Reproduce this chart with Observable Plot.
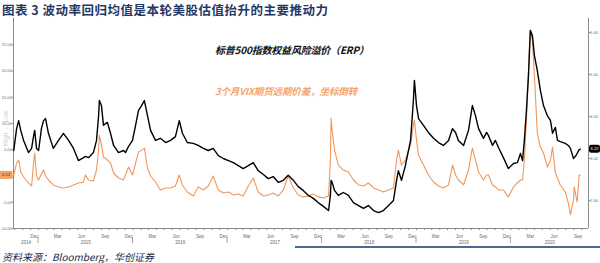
<!DOCTYPE html>
<html><head><meta charset="utf-8">
<script src="https://cdn.jsdelivr.net/npm/d3@7"></script>
<script src="https://cdn.jsdelivr.net/npm/@observablehq/plot@0.6"></script>
<style>
body{margin:0;background:#fff;}
#wrap{position:relative;width:600px;height:263px;overflow:hidden;background:#fff;}
#chart{position:absolute;left:0;top:0;}
.t{position:absolute;white-space:nowrap;font-family:"Noto Sans CJK SC",sans-serif;}
#title{left:2px;top:0px;font-size:12.5px;line-height:normal;letter-spacing:0.5px;font-weight:700;color:#1f3864;}
#caption{left:2px;top:249px;font-size:10px;line-height:normal;font-style:italic;color:#1a2a4a;}
#rule{position:absolute;left:295px;top:246px;width:305px;height:2px;background:#4a6a95;}
#lab1{left:215px;top:43px;font-size:10px;line-height:13px;font-weight:700;font-style:italic;color:#111;letter-spacing:-0.2px;}
#lab2{left:215px;top:85px;font-size:9.6px;line-height:13px;font-weight:700;font-style:italic;color:#f4a56c;letter-spacing:-0.2px;}
</style></head>
<body>
<div id="wrap">
  <div id="chart"></div>
  <div id="rule"></div>
  <div class="t" id="title">图表 3 波动率回归均值是本轮美股估值抬升的主要推动力</div>
  <div class="t" id="lab1">标普500指数权益风险溢价（ERP）</div>
  <div class="t" id="lab2">3个月VIX期货远期价差，坐标倒转</div>
  <div class="t" id="caption">资料来源：Bloomberg，华创证券</div>
</div>
<script>
// ---- data ----
const dates = ["2014-09-27","2014-10-08","2014-10-16","2014-10-24","2014-11-04","2014-11-23","2014-12-05","2014-12-13","2014-12-17","2014-12-24",
"2015-01-01","2015-01-12","2015-01-20","2015-01-28","2015-02-08","2015-02-27","2015-03-19","2015-04-07","2015-04-27","2015-05-16",
"2015-06-04","2015-06-24","2015-07-01","2015-07-13","2015-08-01","2015-08-13","2015-08-21","2015-08-24","2015-09-01","2015-09-09",
"2015-09-24","2015-10-06","2015-10-18","2015-11-06","2015-11-25","2015-12-03","2015-12-15","2015-12-30","2016-01-11","2016-01-22",
"2016-02-03","2016-02-14","2016-02-26","2016-03-09","2016-03-28","2016-04-16","2016-05-06","2016-05-25","2016-06-13","2016-06-28",
"2016-07-10","2016-07-29","2016-08-21","2016-09-09","2016-09-29","2016-10-18","2016-11-06","2016-11-26","2016-12-15","2017-01-04",
"2017-01-23","2017-02-11","2017-03-02","2017-03-22","2017-04-10","2017-04-29","2017-05-19","2017-06-07","2017-06-26","2017-07-16",
"2017-08-04","2017-08-23","2017-09-12","2017-10-01","2017-10-20","2017-11-09","2017-11-28","2017-12-17","2018-01-06","2018-01-26",
"2018-02-02","2018-02-05","2018-02-09","2018-02-18","2018-03-05","2018-03-24","2018-04-13","2018-05-02","2018-05-22","2018-06-10",
"2018-06-29","2018-07-19","2018-08-07","2018-08-26","2018-09-15","2018-10-04","2018-10-16","2018-10-23","2018-11-04","2018-11-19",
"2018-12-09","2018-12-20","2018-12-24","2019-01-01","2019-01-09","2019-01-28","2019-02-16","2019-03-08","2019-03-27","2019-04-15",
"2019-05-05","2019-05-20","2019-06-01","2019-06-12","2019-07-02","2019-07-21","2019-08-05","2019-08-17","2019-08-29","2019-09-17",
"2019-09-29","2019-10-06","2019-10-22","2019-11-02","2019-11-14","2019-12-03","2019-12-22","2020-01-11","2020-01-26","2020-02-07",
"2020-02-15","2020-02-22","2020-03-01","2020-03-09","2020-03-16","2020-03-24","2020-04-01","2020-04-12","2020-04-24","2020-05-06",
"2020-05-21","2020-06-02","2020-06-10","2020-06-21","2020-06-29","2020-07-10","2020-07-29","2020-08-10","2020-08-18","2020-08-30",
"2020-09-02","2020-09-09","2020-09-13","2020-09-21","2020-09-25"];

// S&P 500 equity risk premium (right axis, %)
const erp = [3.19,3.71,3.90,3.67,3.43,3.14,3.24,3.55,3.67,3.24,
3.19,3.71,3.90,3.95,3.60,3.24,3.43,3.60,3.43,3.24,
2.95,3.02,3.05,3.02,3.14,3.43,4.02,4.38,4.26,3.79,
3.86,3.60,3.31,3.14,3.19,3.14,3.29,3.43,3.79,4.14,
4.26,4.38,4.02,3.67,3.43,3.48,3.38,3.43,3.52,3.90,
3.60,3.38,3.36,3.31,3.24,3.19,3.24,3.07,3.00,2.95,
2.90,2.83,2.76,2.83,2.90,2.71,2.62,2.52,2.57,2.43,
2.48,2.60,2.48,2.33,2.24,2.12,2.05,1.95,1.86,1.76,
2.12,2.48,2.43,2.24,2.12,2.19,2.12,1.95,1.88,1.81,
1.88,1.76,1.71,1.76,1.88,2.00,2.48,2.71,2.48,2.83,
3.43,4.38,4.86,4.26,3.95,3.79,3.62,3.48,3.38,3.31,
3.43,3.71,3.62,3.43,3.31,3.67,4.26,4.02,3.71,3.48,
3.62,3.55,3.31,3.43,3.26,3.02,2.76,2.88,2.90,3.12,
2.95,3.43,4.14,4.98,6.05,5.93,5.45,5.10,4.62,4.26,
4.02,3.90,3.60,3.74,3.43,3.40,3.36,3.31,3.24,3.00,
3.02,3.07,3.12,3.21,3.22];

// 3-month VIX futures term spread, inverted (left axis)
const vixInv = [0.19,2.47,3.04,0.76,-0.19,-1.33,-1.90,2.66,4.36,0,
-0.76,0.38,1.14,0,-0.76,-1.71,-2.09,-2.28,-2.09,-1.71,
-1.33,-1.14,0.19,-0.76,-0.95,1.14,4.93,7.78,5.88,3.61,
3.04,2.47,0.57,-0.38,-0.76,0.19,1.71,0.19,2.47,4.55,
4.93,5.31,1.52,0,-1.14,-2.66,-2.28,-2.28,-1.90,0.19,
-1.71,-3.04,-3.80,-2.09,-2.66,-1.90,0,-2.66,-3.23,-3.04,
-3.61,-3.42,-3.80,-1.90,-0.38,-3.04,-3.80,-3.61,-3.23,-3.80,
-2.66,0,-2.28,-3.61,-3.98,-3.80,-3.42,-3.98,-4.17,-3.80,
3.04,11.0,8.73,4.93,2.09,1.14,0.76,-0.76,-1.71,-1.90,
-1.33,-2.28,-2.66,-3.04,-2.66,-2.28,3.04,4.93,2.09,3.04,
5.88,9.68,10.6,6.83,3.98,2.09,0.19,-1.14,-1.90,-2.28,
-1.71,2.09,0.19,-0.76,-1.71,1.14,5.31,3.04,0.76,-0.76,
0.19,0.19,-1.71,-2.09,-2.66,-2.66,-3.98,-2.09,-1.33,-0.76,
-0.76,3.04,10.6,20.1,27.7,25.8,19.2,8.16,5.50,4.36,
1.71,3.04,5.50,0.57,-0.38,-1.71,-3.04,-5.12,-7.40,-4.55,
-2.09,-3.98,-4.93,0.19,0.12];

const leftTicks = [-10,-5,0,5,10,15,20,25];
const rightTicks = [2,3,4,5,6];
const monthNames = ["Mar","Jun","Sep","Dec"];
const yearLabels = ["2014","2015","2016","2017","2018","2019","2020"];

// ---- scales setup ----
const xDomain = [new Date("2014-09-26"), new Date("2020-10-27")];
const leftDomain = [-10, 30];
const rightDomain = [1.333, 6.333];
const k = (leftDomain[1]-leftDomain[0])/(rightDomain[1]-rightDomain[0]);
const toU = v => leftDomain[0] + (v - rightDomain[0]) * k;
const fromU = u => rightDomain[0] + (u - leftDomain[0]) / k;

const rows = dates.map((d,i) => ({date: new Date(d), erp: erp[i], vix: vixInv[i]}));

const monthStarts = d3.utcMonths(xDomain[0], xDomain[1]);
const quarterMids = monthStarts.filter(d => [2,5,8,11].includes(d.getUTCMonth()))
  .map(d => d3.utcDay.offset(d, 15));
const yearStarts = d3.utcYears(xDomain[0], xDomain[1]);
const yearMids = yearLabels.map(y => {
  const a = new Date(Math.max(+new Date(y+"-01-01"), +xDomain[0]));
  const b = new Date(Math.min(+new Date((+y+1)+"-01-01"), +xDomain[1]));
  return new Date((+a + +b)/2);
});

const orange = "#f0975c";
const axisColor = "#8a8a8a";
const labColor = "#6a6a6a";

const chart = Plot.plot({
  width: 600, height: 263,
  marginTop: 18, marginBottom: 35, marginLeft: 13, marginRight: 12,
  style: {background: "transparent", fontFamily: "Liberation Sans, Arial, sans-serif", fontSize: "4px", color: labColor},
  x: {type: "utc", domain: xDomain},
  y: {domain: leftDomain},
  marks: [
    Plot.axisY(leftTicks, {anchor: "left", tickSize: 1.5, tickPadding: 0.3, tickFormat: d => d === 0 ? "" : d.toFixed(2), label: null, stroke: axisColor, fill: labColor, fontSize: 4}),
    Plot.axisY(rightTicks.map(toU), {anchor: "right", tickSize: 1.5, tickPadding: 0.3, tickFormat: u => fromU(u).toFixed(2), label: null, stroke: axisColor, fill: labColor, fontSize: 4}),
    Plot.axisX(monthStarts, {tickSize: 2, tickFormat: () => "", label: null, stroke: axisColor}),
    Plot.axisX(quarterMids, {tickSize: 0, tickPadding: 6, tickFormat: d => monthNames[[2,5,8,11].indexOf(d.getUTCMonth())], label: null, fill: labColor, fontSize: 4.5}),
    Plot.axisX(yearMids, {tickSize: 0, tickPadding: 12, tickFormat: d => String(d.getUTCFullYear()), label: null, fill: labColor, fontSize: 4.5}),
    Plot.ruleX([xDomain[0], xDomain[1]], {stroke: axisColor, strokeWidth: 1}),
    Plot.ruleY([leftDomain[0]], {stroke: axisColor, strokeWidth: 1}),
    Plot.line(rows, {x: "date", y: "vix", stroke: orange, strokeWidth: 1.1}),
    Plot.line(rows, {x: "date", y: d => toU(d.erp), stroke: "#000", strokeWidth: 1.4})
  ]
});
document.getElementById("chart").appendChild(chart);

// decorations positioned with the chart's own scales
const sx = chart.scale("x"), sy = chart.scale("y");
const svg = d3.select(chart);
const yBottom = sy.apply(leftDomain[0]);
svg.append("g").selectAll("line").data(yearStarts).join("line")
  .attr("x1", d => sx.apply(d)).attr("x2", d => sx.apply(d))
  .attr("y1", yBottom + 9).attr("y2", yBottom + 15)
  .attr("stroke", axisColor).attr("stroke-width", 0.8);

// rotated indicator on the inverted axis
svg.append("text").attr("transform", `translate(6.5,${sy.apply(9)}) rotate(-90)`)
  .attr("text-anchor", "middle").attr("dominant-baseline", "middle")
  .attr("font-size", 6.5).attr("fill", "#cfcfcf").attr("font-family", "Liberation Sans, Arial")
  .text("High \u2190 Low");

// last-value boxes
const lastV = vixInv[vixInv.length-1];
const yv = sy.apply(lastV);
svg.append("rect").attr("x", 0).attr("y", yv-4).attr("width", 12.5).attr("height", 8).attr("fill", "#f4a263");
svg.append("text").attr("x", 6.2).attr("y", yv).attr("text-anchor","middle").attr("dominant-baseline","central")
  .attr("font-size", 4.3).attr("fill","#5a2a0a").attr("font-family","Liberation Sans, Arial").text(lastV.toFixed(2));

const lastE = erp[erp.length-1];
const ye = sy.apply(toU(lastE));
const xr = sx.apply(xDomain[1]);
svg.append("rect").attr("x", xr+1).attr("y", ye-4).attr("width", 11).attr("height", 8).attr("rx", 2.5).attr("fill", "#000");
svg.append("text").attr("x", xr+6.5).attr("y", ye).attr("text-anchor","middle").attr("dominant-baseline","central")
  .attr("font-size", 4.3).attr("fill","#fff").attr("font-family","Liberation Sans, Arial").text(lastE.toFixed(2));
</script>
</body></html>
